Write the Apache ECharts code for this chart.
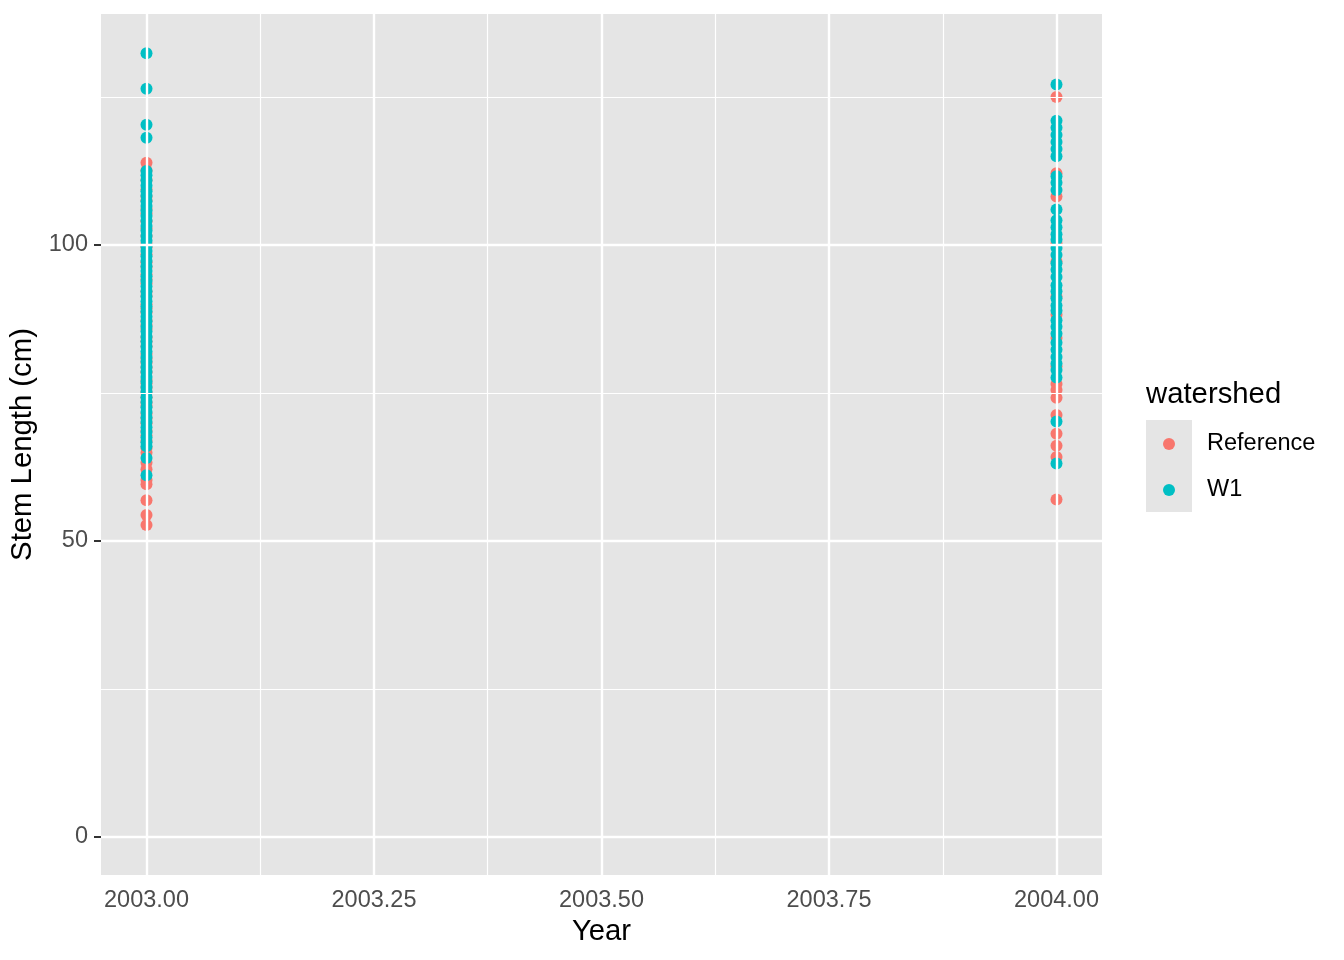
<!DOCTYPE html>
<html>
<head>
<meta charset="utf-8">
<script src="https://cdn.jsdelivr.net/npm/echarts@6/dist/echarts.min.js"></script>
<style>html,body{margin:0;padding:0;background:#fff}#c{width:1344px;height:960px}</style>
</head>
<body>
<div id="c"></div>
<script>
// ---- data ----
var years = [2003, 2004];
var ref2003 = [113.9, 112.6, 111.0, 109.4, 108.2, 107.5, 106.1, 105.3, 104.0, 102.8, 101.5, 100.2, 99.6, 98.4, 97.1, 96.3, 95.0, 94.2, 93.5, 92.1, 91.4, 90.0, 89.3, 88.6, 87.2, 86.5, 85.8, 84.4, 83.7, 82.9, 81.6, 80.8, 80.1, 79.3, 78.5, 77.2, 76.6, 75.9, 75.1, 74.3, 73.4, 72.8, 71.5, 70.7, 69.9, 68.6, 67.8, 66.9, 65.7, 64.9, 63.2, 62.1, 60.3, 59.6, 56.9, 54.4, 52.7];
var w12003 = [132.4, 126.4, 120.3, 118.1, 112.5, 111.8, 110.9, 110.0, 109.1, 108.3, 107.4, 106.6, 105.8, 104.9, 104.1, 103.2, 102.4, 101.5, 100.7, 99.8, 99.0, 98.1, 97.3, 96.4, 95.6, 94.7, 93.9, 93.0, 92.2, 91.3, 90.5, 89.6, 88.8, 87.9, 87.1, 86.2, 85.4, 84.5, 83.7, 82.8, 82.0, 81.1, 80.3, 79.4, 78.6, 77.7, 76.9, 76.0, 75.2, 74.3, 73.5, 72.6, 71.8, 70.9, 70.1, 69.2, 68.4, 67.5, 66.7, 66.0, 64.0, 61.1];
var ref2004 = [125.0, 112.1, 108.2, 100.3, 97.2, 91.3, 88.2, 84.3, 79.5, 76.5, 75.5, 74.2, 71.3, 68.1, 66.1, 64.2, 57.0];
var w12004 = [127.1, 121.0, 119.8, 118.6, 117.4, 116.2, 115.0, 111.6, 110.5, 109.3, 106.0, 104.2, 103.0, 101.8, 100.9, 99.5, 98.3, 96.9, 95.8, 94.6, 93.2, 92.2, 91.0, 89.8, 88.9, 87.3, 86.2, 85.0, 83.5, 82.3, 81.1, 80.0, 78.9, 77.6, 70.2, 63.1];
var xTicks = [2003, 2003.25, 2003.5, 2003.75, 2004];
var xMinor = [2003.125, 2003.375, 2003.625, 2003.875];
var yTicks = [0, 50, 100];
var yMinor = [25, 75, 125];
var seriesNames = ['Reference', 'W1'];
var colors = ['#F8766D', '#00BFC4'];

function pts(year, vals) { return vals.map(function (v) { return [year, v]; }); }

var FONT = 'Liberation Sans, Arial, Helvetica, sans-serif';
var chart = echarts.init(document.getElementById('c'), null, { renderer: 'canvas' });

var gridLines = [];
xTicks.forEach(function (x) { gridLines.push({ xAxis: x, lineStyle: { width: 2.4 } }); });
xMinor.forEach(function (x) { gridLines.push({ xAxis: x, lineStyle: { width: 1.2 } }); });
yTicks.forEach(function (y) { gridLines.push({ yAxis: y, lineStyle: { width: 2.4 } }); });
yMinor.forEach(function (y) { gridLines.push({ yAxis: y, lineStyle: { width: 1.2 } }); });

chart.setOption({
  animation: false,
  backgroundColor: '#ffffff',
  textStyle: { fontFamily: FONT },
  grid: { left: 101, top: 14, width: 1001, height: 861, show: true, backgroundColor: '#E5E5E5', borderWidth: 0, containLabel: false },
  xAxis: {
    type: 'value', min: 2002.95, max: 2004.05,
    name: 'Year', nameLocation: 'middle', nameGap: 42,
    nameTextStyle: { fontSize: 29.3, color: '#000', fontFamily: FONT },
    axisLine: { show: false },
    axisTick: { show: true, length: 7, customValues: xTicks, lineStyle: { color: '#333333', width: 2 } },
    axisLabel: { customValues: xTicks, fontSize: 23.5, color: '#4D4D4D', margin: 14, fontFamily: FONT,
      formatter: function (v) { return v.toFixed(2); } },
    splitLine: { show: false }
  },
  yAxis: {
    type: 'value', min: -6.42, max: 139.02,
    name: 'Stem Length (cm)', nameLocation: 'middle', nameGap: 58,
    nameTextStyle: { fontSize: 29.3, color: '#000', fontFamily: FONT },
    axisLine: { show: false },
    axisTick: { show: true, length: 7, customValues: yTicks, lineStyle: { color: '#333333', width: 2 } },
    axisLabel: { customValues: yTicks, fontSize: 23.5, color: '#4D4D4D', margin: 13, fontFamily: FONT },
    splitLine: { show: false }
  },
  legend: {
    orient: 'vertical', left: 1163, top: 432, padding: 0,
    itemWidth: 12, itemHeight: 12, itemGap: 22, icon: 'circle',
    data: seriesNames,
    formatter: '{t|{name}}',
    textStyle: { fontSize: 23.5, color: '#000', fontFamily: FONT,
      rich: { t: { fontSize: 23.5, color: '#000', fontFamily: FONT, padding: [0, 0, 0, 27] } } },
    selectedMode: false
  },
  graphic: [
    { type: 'rect', left: 1146, top: 420, shape: { width: 46, height: 92 }, style: { fill: '#E5E5E5' }, z: -1, silent: true },
    { type: 'text', left: 1146, top: 380, style: { text: 'watershed', fontSize: 29.3, fill: '#000', fontFamily: FONT } }
  ],
  series: [
    {
      type: 'scatter', name: '_grid', data: [], silent: true, z: 1,
      markLine: { silent: true, symbol: ['none', 'none'], precision: 4, label: { show: false }, animation: false,
        lineStyle: { color: '#ffffff', type: 'solid', width: 2.4 }, emphasis: { disabled: true }, data: gridLines }
    },
    {
      type: 'scatter', name: seriesNames[0], symbolSize: 12, z: 3,
      itemStyle: { color: colors[0], opacity: 1 }, emphasis: { disabled: true },
      data: pts(years[0], ref2003).concat(pts(years[1], ref2004))
    },
    {
      type: 'scatter', name: seriesNames[1], symbolSize: 12, z: 4,
      itemStyle: { color: colors[1], opacity: 1 }, emphasis: { disabled: true },
      data: pts(years[0], w12003).concat(pts(years[1], w12004))
    }
  ]
});
</script>
</body>
</html>
